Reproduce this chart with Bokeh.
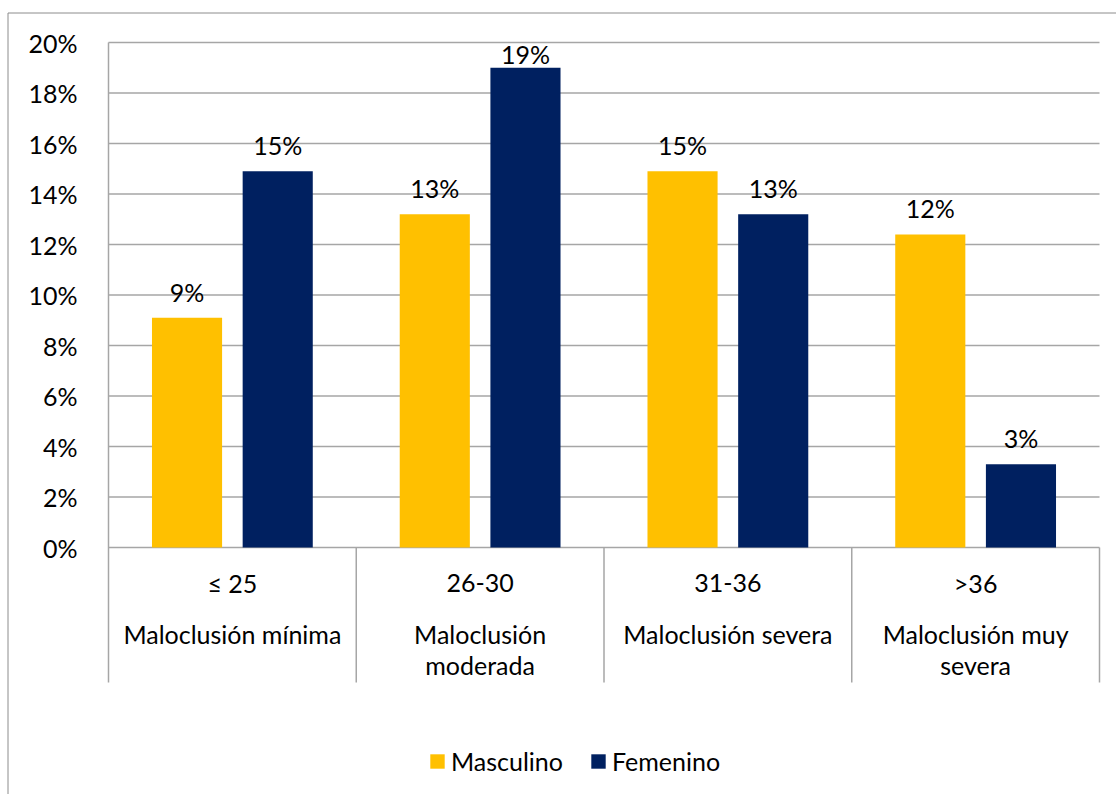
from bokeh.plotting import figure
from bokeh.models import Range1d, FixedTicker, PrintfTickFormatter, Legend, LegendItem, ColumnDataSource
from bokeh.core.properties import value
from bokeh.embed import file_html
from bokeh.resources import INLINE

# --- data -------------------------------------------------------------
score_ranges = ["≤ 25", "26-30", "31-36", ">36"]
severity_line1 = ["Maloclusión mínima", "Maloclusión", "Maloclusión severa", "Maloclusión muy"]
severity_line2 = ["", "moderada", "", "severa"]
masculino = [9.1, 13.2, 14.9, 12.4]
femenino = [14.9, 19.0, 13.2, 3.3]
y_ticks = [0, 2, 4, 6, 8, 10, 12, 14, 16, 18, 20]

FONT = "Lato"
FS = "25px"
GOLD = "#FFC000"
NAVY = "#002060"
GRID = "#a6a6a6"
FRAME = "#8c8c8c"

W, H = 1116, 794
n = len(score_ranges)
centers = [i + 0.5 for i in range(n)]
offset = 0.183
bar_w = 0.283

# pixel geometry of the plotting area inside the canvas
left_px, right_px, top_px, zero_px = 108, 1099, 42, 547
kx = (right_px - left_px) / n
ky = (zero_px - top_px) / y_ticks[-1]
x_start, x_end = -left_px / kx, n + (W - right_px) / kx
y_start, y_end = -(H - zero_px) / ky, y_ticks[-1] + top_px / ky
axis_floor = -(682 - zero_px) / ky      # bottom of the category-label band
box_left = -(left_px - 7.5) / kx        # chart box edges
box_top = y_ticks[-1] + (top_px - 12.5) / ky


def label_shift(v):
    # value labels float 26px above the bar, but never above the top gridline
    return -min(26.0, (y_ticks[-1] - v) * ky - 11.5)


p = figure(width=W, height=H, output_backend="svg", toolbar_location=None,
           x_range=Range1d(x_start, x_end), y_range=Range1d(y_start, y_end),
           min_border=0, min_border_left=0, min_border_right=0, min_border_top=0, min_border_bottom=0)
p.outline_line_color = None
p.background_fill_color = "white"
p.border_fill_color = "white"

# value axis pinned at x = 0
p.xaxis.visible = False
p.xgrid.visible = False
p.ygrid.visible = False
yax = p.yaxis[0]
yax.fixed_location = 0
yax.bounds = (axis_floor, y_ticks[-1])
yax.ticker = FixedTicker(ticks=y_ticks)
yax.formatter = PrintfTickFormatter(format="%d%%")
yax.major_tick_line_color = None
yax.minor_tick_line_color = None
yax.axis_line_color = GRID
yax.axis_line_width = 1.5
yax.major_label_text_font = FONT
yax.major_label_text_font_size = FS
yax.major_label_text_color = "black"
yax.major_label_standoff = 25

# horizontal gridlines across the category span
p.segment(x0=[0] * len(y_ticks), y0=y_ticks, x1=[n] * len(y_ticks), y1=y_ticks,
          line_color=GRID, line_width=1.5)

# chart box: left and top edges
p.segment(x0=[box_left, box_left], y0=[y_start, box_top], x1=[box_left, x_end], y1=[box_top, box_top],
          line_color=FRAME, line_width=1)

# bars
src_m = ColumnDataSource(dict(x=[c - offset for c in centers], top=masculino,
                              lab=[f"{round(v)}%" for v in masculino],
                              dy=[label_shift(v) for v in masculino]))
src_f = ColumnDataSource(dict(x=[c + offset for c in centers], top=femenino,
                              lab=[f"{round(v)}%" for v in femenino],
                              dy=[label_shift(v) for v in femenino]))
r_m = p.vbar(x="x", top="top", width=bar_w, bottom=0, source=src_m, fill_color=GOLD, line_color=None)
r_f = p.vbar(x="x", top="top", width=bar_w, bottom=0, source=src_f, fill_color=NAVY, line_color=None)

for src in (src_m, src_f):
    p.text(x="x", y="top", text="lab", source=src, text_align="center", text_baseline="middle",
           y_offset="dy", text_font=value(FONT), text_font_size=FS, text_color="black")

# category separators below the zero line
p.segment(x0=list(range(1, n + 1)), y0=[0] * n, x1=list(range(1, n + 1)), y1=[axis_floor] * n,
          line_color=GRID, line_width=1.5)

# two-level category labels
zeros = [0] * n
p.text(x=centers, y=zeros, text=score_ranges, y_offset=35, text_align="center", text_baseline="middle",
       text_font=value(FONT), text_font_size=FS, text_color="black")
p.text(x=centers, y=zeros, text=severity_line1, y_offset=86, text_align="center", text_baseline="middle",
       text_font=value(FONT), text_font_size=FS, text_color="black")
p.text(x=centers, y=zeros, text=severity_line2, y_offset=117, text_align="center", text_baseline="middle",
       text_font=value(FONT), text_font_size=FS, text_color="black")

legend = Legend(items=[LegendItem(label="Masculino", renderers=[r_m]),
                       LegendItem(label="Femenino", renderers=[r_f])],
                orientation="horizontal", location=(428, 18),
                glyph_width=18, glyph_height=18, label_standoff=5, spacing=26,
                padding=0, margin=0, border_line_color=None, background_fill_alpha=0,
                label_text_font=FONT, label_text_font_size=FS, label_text_color="black")
p.add_layout(legend, "center")

open("out.html", "w").write(file_html(p, INLINE))
